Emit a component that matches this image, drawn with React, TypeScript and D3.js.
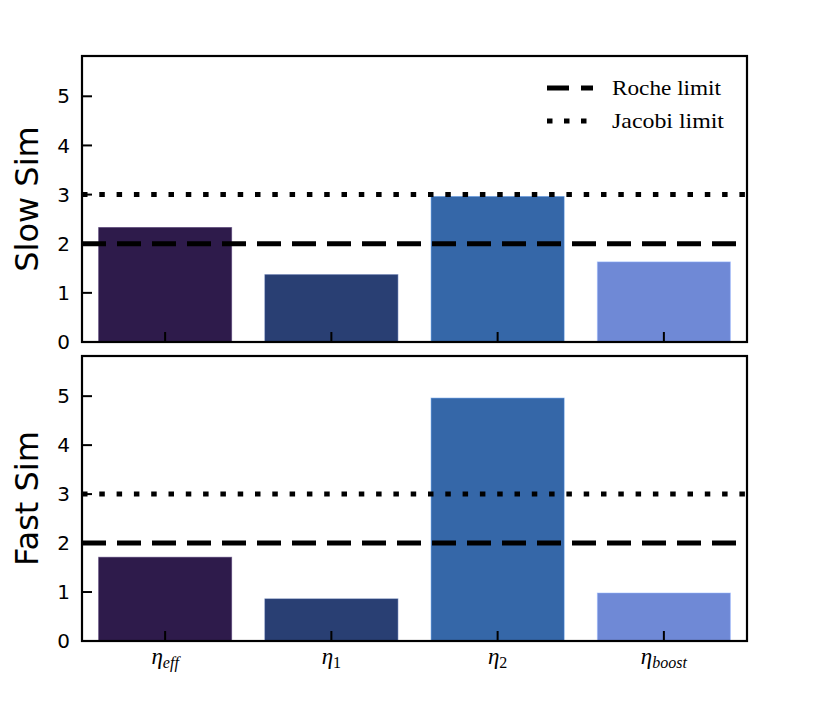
import * as d3 from 'd3'

// bar categories (subscripts of eta) and values
const categories = ['eff', '1', '2', 'boost']
const slowValues = [2.33, 1.37, 2.96, 1.63]
const fastValues = [1.71, 0.86, 4.96, 0.98]
const barColors = ['#2e1b4b', '#293f73', '#3567a8', '#6f89d6']
const yTicks = [0, 1, 2, 3, 4, 5]
const rocheLimit = 2
const jacobiLimit = 3
const yMax = 5.82

const W = 830
const H = 712
const left = 82
const right = 747

const panels = [
	{ label: 'Slow Sim', values: slowValues, top: 56, bottom: 342, legend: true },
	{ label: 'Fast Sim', values: fastValues, top: 356, bottom: 641, legend: false },
]

const x = d3.scaleBand<string>().domain(categories).range([left, right]).paddingInner(0.2).paddingOuter(0.1)

const Panel = ({ p }) => {
	const y = d3.scaleLinear().domain([0, yMax]).range([p.bottom, p.top])
	const mid = (p.top + p.bottom) / 2
	return (
		<g>
			{p.values.map((v, i) => {
				const c = d3.color(barColors[i]).brighter(0.8)
				c.opacity = 0.5
				return (
					<rect
						key={i}
						x={x(categories[i])}
						width={x.bandwidth()}
						y={y(v)}
						height={y(0) - y(v)}
						fill={barColors[i]}
						stroke={c.toString()}
						strokeWidth={1}
					/>
				)
			})}
			{/* limits */}
			<line x1={left} x2={right} y1={y(rocheLimit)} y2={y(rocheLimit)} stroke="#000" strokeWidth={5} strokeDasharray="24,11" />
			<line x1={left} x2={right} y1={y(jacobiLimit)} y2={y(jacobiLimit)} stroke="#000" strokeWidth={5} strokeDasharray="5.5,11.8" />
			{/* y ticks */}
			{yTicks.map((t) => (
				<g key={t}>
					<line x1={left} x2={left + 10} y1={y(t)} y2={y(t)} stroke="#000" strokeWidth={2} />
					<text x={70} y={y(t)} dy="0.36em" textAnchor="end" fontFamily="DejaVu Sans" fontSize={20}>
						{t}
					</text>
				</g>
			))}
			{/* x ticks */}
			{categories.map((c) => {
				const cx = x(c) + x.bandwidth() / 2
				return <line key={c} x1={cx} x2={cx} y1={p.bottom} y2={p.bottom - 10} stroke="#000" strokeWidth={2} />
			})}
			<rect x={left} y={p.top} width={right - left} height={p.bottom - p.top} fill="none" stroke="#000" strokeWidth={2.2} />
			<text
				transform={`translate(38,${mid}) rotate(-90)`}
				textAnchor="middle"
				fontFamily="DejaVu Sans"
				fontSize={32}
			>
				{p.label}
			</text>
			{p.legend && (
				<g>
					<line x1={547} x2={593} y1={88} y2={88} stroke="#000" strokeWidth={5} strokeDasharray="22,12" />
					<text x={612} y={88} dy="0.33em" fontFamily="Liberation Serif" fontSize={22} textLength={109} lengthAdjust="spacingAndGlyphs">
						Roche limit
					</text>
					<line x1={547} x2={593} y1={121} y2={121} stroke="#000" strokeWidth={5} strokeDasharray="5.5,11.5" />
					<text x={612} y={121} dy="0.33em" fontFamily="Liberation Serif" fontSize={22} textLength={112} lengthAdjust="spacingAndGlyphs">
						Jacobi limit
					</text>
				</g>
			)}
		</g>
	)
}

export default function App() {
	const last = panels[panels.length - 1]
	return (
		<svg width={W} height={H} style={{ position: 'absolute', left: 0, top: 0, background: '#fff' }}>
			{panels.map((p) => (
				<Panel key={p.label} p={p} />
			))}
			{categories.map((c) => (
				<text
					key={c}
					x={x(c) + x.bandwidth() / 2}
					y={last.bottom + 23}
					textAnchor="middle"
					fontFamily="Liberation Serif"
					fontStyle="italic"
					fontSize={23}
				>
					η
					<tspan fontSize={16} dy={4} fontStyle={/^\d+$/.test(c) ? 'normal' : 'italic'}>
						{c}
					</tspan>
				</text>
			))}
		</svg>
	)
}
